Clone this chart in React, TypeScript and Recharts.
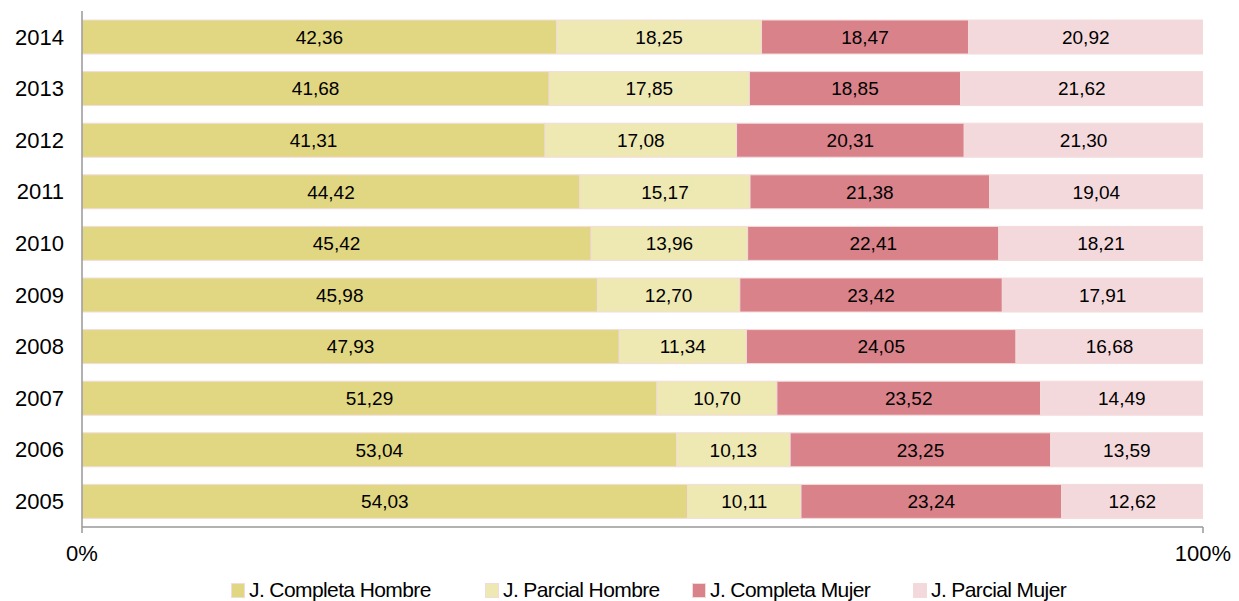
import React from 'react';
import { BarChart, Bar, XAxis, YAxis, LabelList, Legend } from 'recharts';

const years = ['2014', '2013', '2012', '2011', '2010', '2009', '2008', '2007', '2006', '2005'];
const completaHombre = [42.36, 41.68, 41.31, 44.42, 45.42, 45.98, 47.93, 51.29, 53.04, 54.03];
const parcialHombre = [18.25, 17.85, 17.08, 15.17, 13.96, 12.7, 11.34, 10.7, 10.13, 10.11];
const completaMujer = [18.47, 18.85, 20.31, 21.38, 22.41, 23.42, 24.05, 23.52, 23.25, 23.24];
const parcialMujer = [20.92, 21.62, 21.3, 19.04, 18.21, 17.91, 16.68, 14.49, 13.59, 12.62];
const xTicks = [0, 100];

const seriesNames = ['J. Completa Hombre', 'J. Parcial Hombre', 'J. Completa Mujer', 'J. Parcial Mujer'];
const seriesKeys = ['ch', 'ph', 'cm', 'pm'];
const seriesColors = ['#E1D782', '#EEE8B3', '#D9828A', '#F4D9DC'];

const data = years.map((y, i) => ({
  year: y,
  ch: completaHombre[i],
  ph: parcialHombre[i],
  cm: completaMujer[i],
  pm: parcialMujer[i],
}));

const FONT = '"Liberation Sans", Arial, sans-serif';
const fmt = (v: any) => Number(v).toFixed(2).replace('.', ',');

const legendLefts = [219, 473, 680, 901];

const renderLegend = () => (
  <div style={{ position: 'relative', width: 1239, height: 30, fontFamily: FONT }}>
    {seriesNames.map((n, i) => (
      <div
        key={n}
        style={{
          position: 'absolute',
          left: legendLefts[i],
          top: 4,
          display: 'flex',
          alignItems: 'center',
          height: 30,
          whiteSpace: 'nowrap',
        }}
      >
        <span
          style={{
            display: 'inline-block',
            width: 12,
            height: 13,
            background: seriesColors[i],
            border: '1px solid #F2DCDB',
            marginRight: 4,
          }}
        />
        <span style={{ fontSize: 21, color: '#000', letterSpacing: -0.6 }}>{n}</span>
      </div>
    ))}
  </div>
);

export default function App() {
  return (
    <div style={{ position: 'absolute', left: 0, top: 0, background: '#fff' }}>
      <BarChart
        width={1239}
        height={601}
        data={data}
        layout="vertical"
        margin={{ top: 11, right: 36, bottom: 0, left: 12 }}
        barSize={34}
      >
        <XAxis
          type="number"
          domain={[0, 100]}
          allowDataOverflow
          ticks={xTicks}
          tickFormatter={(v: number) => `${v}%`}
          axisLine={{ stroke: '#999', strokeWidth: 1.5 }}
          tickLine={{ stroke: '#999', strokeWidth: 1.5 }}
          tickSize={6}
          height={44}
          tick={{ fill: '#000', fontSize: 22, fontFamily: FONT, dy: 10 }}
        />
        <YAxis
          type="category"
          dataKey="year"
          width={70}
          axisLine={{ stroke: '#999', strokeWidth: 1.5 }}
          tickLine={false}
          tick={{ fill: '#000', fontSize: 22, fontFamily: FONT, dx: -10 }}
        />
        <Legend verticalAlign="bottom" height={30} content={renderLegend} />
        {seriesKeys.map((k, i) => (
          <Bar
            key={k}
            dataKey={k}
            name={seriesNames[i]}
            stackId="a"
            fill={seriesColors[i]}
            stroke="#F2DCDB"
            strokeWidth={1}
            isAnimationActive={false}
          >
            <LabelList
              dataKey={k}
              position="center"
              formatter={fmt}
              style={{ fill: '#000', fontSize: 19, fontFamily: FONT }}
            />
          </Bar>
        ))}
      </BarChart>
    </div>
  );
}
